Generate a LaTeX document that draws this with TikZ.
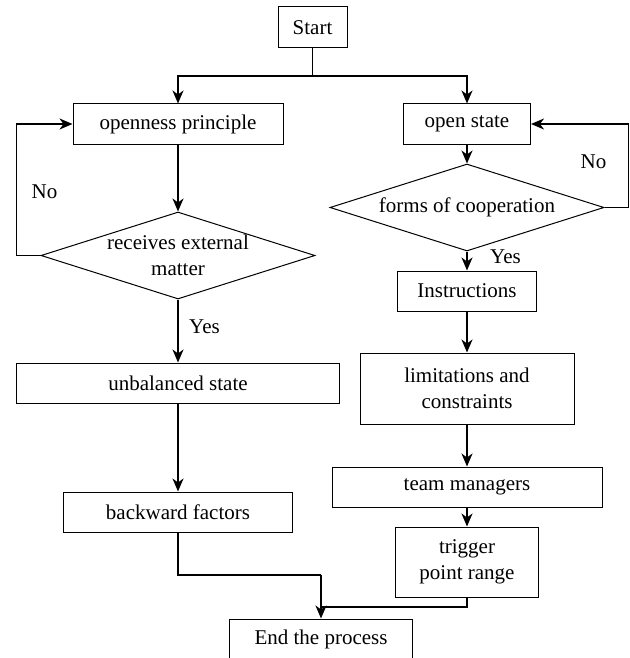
\documentclass[tikz,border=0pt]{standalone}
\usepackage{fontspec}
\setmainfont{Liberation Serif}
\usetikzlibrary{shapes.geometric}
\usetikzlibrary{arrows.meta}
\tikzset{
  box/.style={rectangle, draw=black, line width=1pt, inner sep=0pt, align=center},
  decision/.style={diamond, aspect=3.15, draw=black, line width=1pt, inner sep=0pt, align=center, minimum width=274pt, minimum height=87pt},
  flow/.style={line width=1.5pt, color=black},
  arr/.style={flow, -{Stealth[length=13pt, width=11pt, inset=4pt]}},
  lbl/.style={inner sep=0pt}
}

\begin{document}
\begin{tikzpicture}[font=\fontsize{21pt}{26pt}\selectfont]
\useasboundingbox (0pt, 0pt) rectangle (629pt, -658pt);
% left branch
\node (1) [box, minimum width=69pt, minimum height=41pt] at (312.5pt, -27.5pt) {Start};
\node (2) [box, minimum width=210pt, minimum height=40pt] at (178pt, -124pt) {openness principle};
\node (3) [decision] at (178pt, -255.5pt) {receives external\\matter};
\node (4) [box, minimum width=323pt, minimum height=40pt] at (178pt, -383pt) {unbalanced state};
\node (5) [box, minimum width=229pt, minimum height=40pt] at (178pt, -512pt) {backward factors};
% right branch
\node (6) [box, minimum width=127pt, minimum height=40pt] at (467pt, -124pt) {open state};
\node (7) [decision] at (467pt, -207.5pt) {forms of cooperation};
\node (8) [box, minimum width=139pt, minimum height=40pt] at (467pt, -291pt) {Instructions};
\node (9) [box, minimum width=214pt, minimum height=71pt] at (467pt, -388.5pt) {limitations and\\constraints};
\node (10) [box, minimum width=270pt, minimum height=40pt] at (467pt, -487pt) {team managers};
\node (11) [box, minimum width=143pt, minimum height=70pt] at (467pt, -562pt) {trigger\\point range};
\node (12) [box, minimum width=183pt, minimum height=40pt] at (321pt, -639pt) {End the process};
% labels
\node (n1) [lbl] at (44.5pt, -192pt) {No};
\node (y1) [lbl, anchor=west] at (189pt, -327pt) {Yes};
\node (n2) [lbl] at (593.5pt, -162pt) {No};
\node (y2) [lbl, anchor=west] at (490pt, -257pt) {Yes};
% joints
\coordinate (s) at (312.5pt, -76pt);
\coordinate (m) at (321pt, -575pt);
\coordinate (m2) at (321pt, -607pt);
% connectors
\draw [flow] (1) to (s);
\draw [arr] (s) -| (2);
\draw [arr] (s) -| (6);
\draw [arr] (2) to (3);
\draw [arr] (3.west) -- ++(-24pt, 0pt) |- (2.west);
\draw [arr] (3) to (4);
\draw [arr] (4) to (5);
\draw [flow] (5) |- (m);
\draw [arr] (6) to (7);
\draw [arr] (7.east) -- ++(24pt, 0pt) |- (6.east);
\draw [arr] (7) to (8);
\draw [arr] (8) to (9);
\draw [arr] (9) to (10);
\draw [arr] (10) to (11);
\draw [flow] (11) |- (m2);
\draw [arr] (m) to (12);
\end{tikzpicture}
\end{document}
